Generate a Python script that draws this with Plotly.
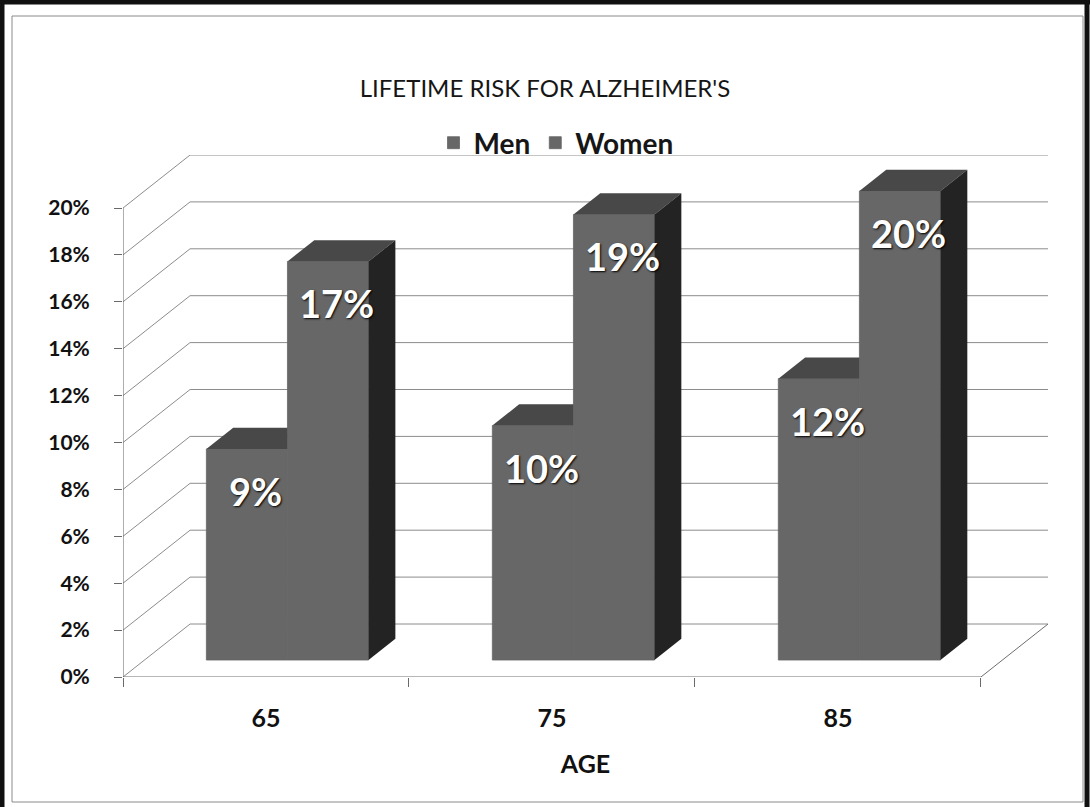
import plotly.graph_objects as go

# ---- data ----
ages = ["65", "75", "85"]
men = [9, 10, 12]
women = [17, 19, 20]
y_ticks = list(range(0, 21, 2))

# ---- canvas / projection settings ----
W, H = 1090, 807
L, R, T, B = 123, 42, 155, 130
CAT_PX = 285.67          # pixels per category on the front floor edge
PCT_PX = 23.45           # pixels per percentage point
WALL_PX = (67, 53)       # oblique depth of the floor / walls in pixels
DX = WALL_PX[0] / CAT_PX
DY = WALL_PX[1] / PCT_PX
BAR_W = 81 / CAT_PX
F0, F1 = 0.32, 0.72      # bar front / back as a fraction of the depth
DD = F1 - F0

FRONT = "#676767"
TOP = "#484848"
SIDE = "#232323"
GRID = "#8c8c8c"
FONT = "Lato"

xs = list(range(len(ages)))
x_lo, x_hi = -0.5, len(ages) - 0.5

fig = go.Figure()

# front faces of the bars
for name, vals, shift in [("Men", men, -BAR_W), ("Women", women, 0.0)]:
    fig.add_trace(go.Bar(
        x=xs, y=vals, base=F0 * DY, offset=F0 * DX + shift, width=BAR_W,
        name=name, marker=dict(color=FRONT, line=dict(color=FRONT, width=0.8)),
        hoverinfo="skip",
    ))

# top and side faces built from the same values
top_x, top_y, side_x, side_y = [], [], [], []
for i in xs:
    b = F0 * DY
    # men: top face, cut off where the women bar starts
    xl, xr, t = i + F0 * DX - BAR_W, i + F0 * DX, b + men[i]
    top_x += [xl, xl + DD * DX, xr, xr, xl, None]
    top_y += [t, t + DD * DY, t + DD * DY, t, t, None]
    # women: full top face and right side face
    xl, xr, t = i + F0 * DX, i + F0 * DX + BAR_W, b + women[i]
    top_x += [xl, xl + DD * DX, xr + DD * DX, xr, xl, None]
    top_y += [t, t + DD * DY, t + DD * DY, t, t, None]
    side_x += [xr, xr + DD * DX, xr + DD * DX, xr, xr, None]
    side_y += [b, b + DD * DY, t + DD * DY, t, b, None]

fig.add_trace(go.Scatter(x=top_x, y=top_y, mode="lines", fill="toself",
                         fillcolor=TOP, line=dict(width=0), showlegend=False,
                         hoverinfo="skip"))
fig.add_trace(go.Scatter(x=side_x, y=side_y, mode="lines", fill="toself",
                         fillcolor=SIDE, line=dict(width=0), showlegend=False,
                         hoverinfo="skip"))

# walls, floor and gridlines (drawn beneath the bars)
shapes = []
def seg(x0, y0, x1, y1, color=GRID, width=1):
    shapes.append(dict(type="line", xref="x", yref="y", x0=x0, y0=y0,
                       x1=x1, y1=y1, layer="below",
                       line=dict(color=color, width=width)))

for v in y_ticks:
    seg(x_lo + DX, v + DY, x_hi + DX, v + DY)      # back wall
    seg(x_lo, v, x_lo + DX, v + DY)                # side wall
seg(x_lo, 0, x_hi, 0, "#6e6e6e")                   # floor front edge
seg(x_hi, 0, x_hi + DX, DY, "#6e6e6e")             # floor right edge
seg(x_lo, 0, x_lo, y_ticks[-1], "#5e5e5e")         # value axis line

# page frame
pw, ph = W - L - R, H - T - B
def px(xp):
    return (xp - L) / pw
def py(yp):
    return (H - B - yp) / ph

shapes.append(dict(type="rect", xref="paper", yref="paper",
                   x0=px(12), x1=px(1083), y0=py(16), y1=py(802),
                   line=dict(color="#8a8a8a", width=1), layer="below"))
for (x0, y0, x1, y1) in [(0, 2, W, 2), (2, 0, 2, H), (W - 3, 0, W - 3, H)]:
    shapes.append(dict(type="line", xref="paper", yref="paper",
                       x0=px(x0), y0=py(y0), x1=px(x1), y1=py(y1),
                       line=dict(color="#111111", width=5)))

# value labels inside the bars
annotations = []
label_drop = 42 / PCT_PX
for vals, shift in [(men, -BAR_W), (women, 0.0)]:
    for i, v in zip(xs, vals):
        annotations.append(dict(
            x=i + shift + BAR_W / 2 + F0 * DX + 0.13 * DX,
            y=F0 * DY + v - label_drop,
            xref="x", yref="y", text=f"{v}%", showarrow=False,
            xanchor="center", yanchor="middle",
            font=dict(family=FONT, size=38, color="white", weight="bold",
                      shadow="1px 1px 2px #000000"),
        ))

fig.update_layout(
    width=W, height=H,
    margin=dict(l=L, r=R, t=T, b=B, pad=0),
    paper_bgcolor="white", plot_bgcolor="white",
    barmode="overlay",
    title=dict(text="LIFETIME RISK FOR ALZHEIMER'S", x=0.5, xanchor="center",
               xref="container", y=1 - 89 / H, yanchor="middle",
               font=dict(family=FONT, size=24, color="#161616")),
    legend=dict(orientation="h", x=px(556), xanchor="center", y=py(143),
                yanchor="middle", font=dict(family=FONT, size=28,
                                            color="#161616", weight="bold"),
                bgcolor="rgba(0,0,0,0)", itemwidth=30),
    xaxis=dict(range=[x_lo, x_hi + DX], tickvals=xs, ticktext=ages,
               ticks="", showgrid=False, zeroline=False, showline=False,
               ticklabelstandoff=24,
               tickfont=dict(family=FONT, size=25, color="#111111",
                             weight="bold"),
               minor=dict(tickvals=[x_lo + k for k in range(len(ages) + 1)],
                          ticks="outside", ticklen=9, tickcolor="#6a6a6a",
                          showgrid=False),
               title=dict(text="AGE", standoff=24,
                          font=dict(family=FONT, size=25, color="#111111",
                                    weight="bold"))),
    yaxis=dict(range=[0, y_ticks[-1] + DY], tickvals=y_ticks,
               ticktext=[f"{v}%" for v in y_ticks],
               ticks="outside", ticklen=8, tickcolor="#6a6a6a",
               showgrid=False, zeroline=False, showline=False,
               ticklabelstandoff=20,
               tickfont=dict(family=FONT, size=21, color="#111111",
                             weight="bold")),
    shapes=shapes,
    annotations=annotations,
)

fig.write_html("out.html")
